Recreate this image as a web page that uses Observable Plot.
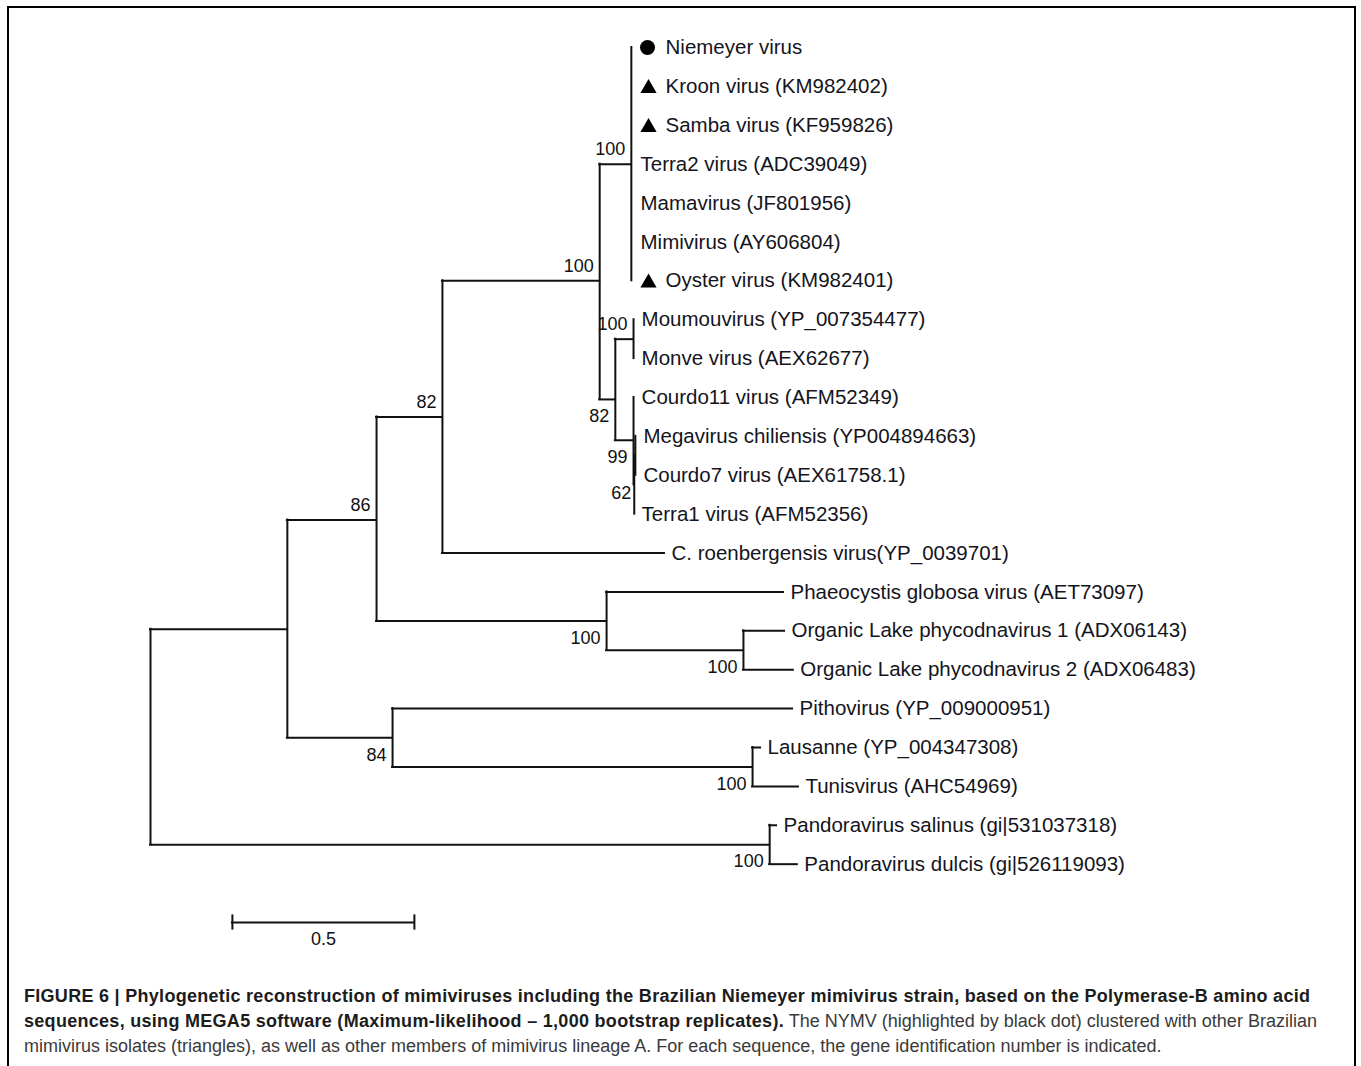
<!DOCTYPE html>
<html>
<head>
<meta charset="utf-8">
<script src="https://cdn.jsdelivr.net/npm/d3@7"></script>
<script src="https://cdn.jsdelivr.net/npm/@observablehq/plot@0.6"></script>
<style>
  html, body { margin: 0; padding: 0; background: #fff; width: 1361px; height: 1066px; overflow: hidden; }
  #chart { position: absolute; left: 0; top: 0; }
  #frame { position: absolute; left: 7px; top: 6px; width: 1349px; height: 1080px; box-sizing: border-box;
           border: 2px solid #000; border-bottom: none; pointer-events: none; }
  #cap { position: absolute; left: 24px; top: 984px; font-family: "Liberation Sans", Arial, sans-serif;
         font-size: 18px; line-height: 25px; color: #3a3a3a; white-space: nowrap; }
  #cap b { color: #1c1c1c; letter-spacing: 0.29px; }
</style>
</head>
<body>
<div id="chart"></div>
<div id="frame"></div>
<div id="cap"><b>FIGURE 6 | Phylogenetic reconstruction of mimiviruses including the Brazilian Niemeyer mimivirus strain, based on the Polymerase-B amino acid<br>sequences, using MEGA5 software (Maximum-likelihood – 1,000 bootstrap replicates).</b> The NYMV (highlighted by black dot) clustered with other Brazilian<br>mimivirus isolates (triangles), as well as other members of mimivirus lineage A. For each sequence, the gene identification number is indicated.</div>
<script>
// ---- Leaves (top to bottom) ----
const leafLabels = [
  "Niemeyer virus", "Kroon virus (KM982402)", "Samba virus (KF959826)", "Terra2 virus (ADC39049)",
  "Mamavirus (JF801956)", "Mimivirus (AY606804)", "Oyster virus (KM982401)",
  "Moumouvirus (YP_007354477)", "Monve virus (AEX62677)",
  "Courdo11 virus (AFM52349)", "Megavirus chiliensis (YP004894663)", "Courdo7 virus (AEX61758.1)", "Terra1 virus (AFM52356)",
  "C. roenbergensis virus(YP_0039701)",
  "Phaeocystis globosa virus (AET73097)", "Organic Lake phycodnavirus 1 (ADX06143)", "Organic Lake phycodnavirus 2 (ADX06483)",
  "Pithovirus (YP_009000951)", "Lausanne (YP_004347308)", "Tunisvirus (AHC54969)",
  "Pandoravirus salinus (gi|531037318)", "Pandoravirus dulcis (gi|526119093)"
];
const leafParent = ["LinA","LinA","LinA","LinA","LinA","LinA","LinA","MM","MM","C3","C2","C2","C62","D","C","G","G","H","I","I","P","P"];
const leafDist = [1.327,1.327,1.327,1.327,1.327,1.327,1.327,1.330,1.330,1.330,1.335,1.335,1.330,1.412,1.739,1.742,1.766,1.764,1.676,1.780,1.720,1.777];

// ---- Internal nodes ----
const nodeId      = ["root","A","B","D","E","LinA","F","MM","C3","C62","C2","C","G","H","I","P"];
const nodeParent  = [null,"root","A","B","D","E","E","F","F","C3","C62","B","C","A","H","root"];
const nodeDist    = [0,0.376,0.621,0.802,1.234,1.321,1.277,1.327,1.327,1.329,1.332,1.253,1.629,0.665,1.654,1.701];
const nodeRow     = [17.73,14.96,12.15,9.5,6.0,3.0,9.05,7.5,10.1,11.25,10.5,14.75,15.5,17.75,18.5,20.5];
const nodeSupport = [null,null,86,82,100,100,82,100,99,62,null,100,100,84,100,100];

// ---- Highlighted leaves ----
const markedLeaves  = ["Niemeyer virus","Kroon virus (KM982402)","Samba virus (KF959826)","Oyster virus (KM982401)"];
const markedSymbols = ["circle","triangle","triangle","triangle"];

// ---- Scale bar ----
const scaleStart = 0.225, scaleLength = 0.5, scaleRow = 22.5, scaleLabel = "0.5";

// ---- Build tables ----
const nodes = nodeId.map((id, i) => ({id, parent: nodeParent[i], dist: nodeDist[i], row: nodeRow[i], support: nodeSupport[i], leaf: false}));
const leaves = leafLabels.map((label, i) => ({id: label, parent: leafParent[i], dist: leafDist[i], row: i, leaf: true,
  symbol: markedSymbols[markedLeaves.indexOf(label)] || null}));
const all = nodes.concat(leaves);
const byId = new Map(all.map(d => [d.id, d]));

// horizontal branches (near-zero-length branches are not visible in the original)
const hEdges = all.filter(d => d.parent)
  .map(d => ({x1: byId.get(d.parent).dist, x2: d.dist, y: d.row}))
  .filter(e => e.x2 - e.x1 > 0.01);
const vEdges = nodes.map(n => {
  const kids = all.filter(d => d.parent === n.id).map(d => d.row);
  return {x: n.dist, y1: d3.min(kids), y2: d3.max(kids)};
});

const boots = nodes.filter(n => n.support != null).map(n => {
  const p = byId.get(n.parent);
  const pos = Math.abs(n.dist - p.dist) < 0.005 ? "mid" : (n.row < p.row ? "above" : "below");
  return {x: n.dist, y: n.row, text: String(n.support), pos};
});

const plain = leaves.filter(d => !d.symbol);
const marked = leaves.filter(d => d.symbol);

const lineStyle = {stroke: "#111", strokeWidth: 2, strokeLinecap: "square"};
const labelFont = 20.5, bootFont = 18;

const chart = Plot.plot({
  width: 1361,
  height: 960,
  marginTop: 47, marginBottom: 38, marginLeft: 150, marginRight: 119,
  style: {fontFamily: "'Liberation Sans', Arial, sans-serif", color: "#111", background: "transparent", overflow: "visible"},
  x: {domain: [0, 3], range: [150, 1242], axis: null},
  y: {domain: [0, 22.5], range: [47, 922], axis: null},
  marks: [
    Plot.ruleY(hEdges, {x1: "x1", x2: "x2", y: "y", ...lineStyle}),
    Plot.ruleX(vEdges, {x: "x", y1: "y1", y2: "y2", ...lineStyle}),
    Plot.text(plain, {x: "dist", y: "row", text: "id", textAnchor: "start", dx: 7, fontSize: labelFont, fill: "#141420"}),
    Plot.text(marked, {x: "dist", y: "row", text: "id", textAnchor: "start", dx: 32, fontSize: labelFont, fill: "#141420"}),
    Plot.dot(marked.filter(d => d.symbol === "circle"), {x: "dist", y: "row", symbol: "circle", r: 7.5, fill: "#000", dx: 14}),
    Plot.dot(marked.filter(d => d.symbol === "triangle"), {x: "dist", y: "row", symbol: "triangle", r: 6, fill: "#000", dx: 15, dy: 2}),
    Plot.text(boots.filter(d => d.pos === "above"), {x: "x", y: "y", text: "text", textAnchor: "end", dx: -6, dy: -15, fontSize: bootFont}),
    Plot.text(boots.filter(d => d.pos === "below"), {x: "x", y: "y", text: "text", textAnchor: "end", dx: -6, dy: 17, fontSize: bootFont}),
    Plot.text(boots.filter(d => d.pos === "mid"), {x: "x", y: "y", text: "text", textAnchor: "end", dx: -3, dy: 8, fontSize: bootFont}),
    // scale bar
    Plot.ruleY([scaleRow], {x1: scaleStart, x2: scaleStart + scaleLength, y: d => d, ...lineStyle}),
    Plot.ruleX([scaleStart, scaleStart + scaleLength], {x: d => d, y1: scaleRow - 0.17, y2: scaleRow + 0.17, ...lineStyle}),
    Plot.text([scaleLabel], {x: scaleStart + scaleLength / 2, y: scaleRow, text: d => d, dy: 17, fontSize: bootFont})
  ]
});
document.getElementById("chart").appendChild(chart);
</script>
</body>
</html>
